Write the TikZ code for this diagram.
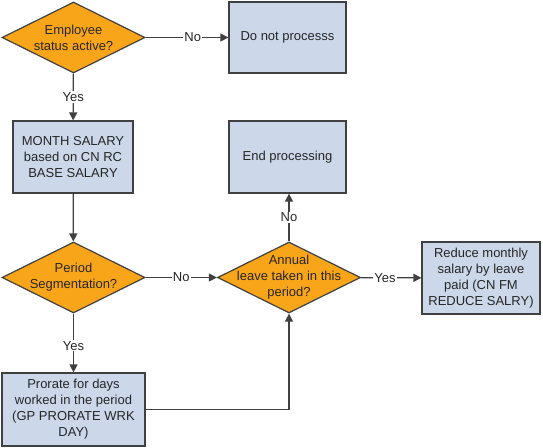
\documentclass[tikz,border=0pt]{standalone}
\usepackage{fontspec}
\setmainfont{Liberation Sans}
\usetikzlibrary{shapes.geometric,arrows.meta,positioning}

\definecolor{decfill}{HTML}{F9A51A}
\definecolor{boxfill}{HTML}{CCD8EA}
\definecolor{edge}{HTML}{404040}

\tikzset{
  decision/.style={diamond, draw=edge, fill=decfill, line width=1.2pt, inner sep=-30pt,
    minimum width=143pt, minimum height=71pt, align=center, text=black!85},
  process/.style={rectangle, draw=edge, fill=boxfill, line width=1.2pt, inner sep=0pt,
    align=center, text=black!85},
  flow/.style={draw=edge, line width=1.2pt, -{Triangle[length=8pt,width=8pt]}},
  answer/.style={fill=white, inner sep=1pt, text=black!85}
}

\begin{document}
\begin{tikzpicture}[x=1pt, y=-1pt, font=\fontsize{13}{16}\selectfont]
        \useasboundingbox (0,0) rectangle (543,447);

        % Decisions
        \node[decision] (active) at (73.5,37.5) {Employee\\status active?};
        \node[decision] (seg) at (73.5,277.5) {Period\\Segmentation?};
        \node[decision] (leave) at (289,277.5) {Annual\\leave taken in this\\period?};

        % Processes
        \node[process, minimum width=117pt, minimum height=71pt] (noproc) at (287.5,37.5) {Do not processs};
        \node[process, minimum width=120pt, minimum height=72pt] (month) at (73,157) {MONTH SALARY\\based on CN RC\\BASE SALARY};
        \node[process, minimum width=117pt, minimum height=72pt] (endp) at (287.5,157) {End processing};
        \node[process, minimum width=118pt, minimum height=72pt] (reduce) at (481,278) {Reduce monthly\\salary by leave\\paid (CN FM\\REDUCE SALRY)};
        \node[process, minimum width=143pt, minimum height=73pt] (prorate) at (73.5,409.5) {Prorate for days\\worked in the period\\(GP PRORATE WRK\\DAY)};

        % Connectors
        \draw[flow] (active) -- node[answer, pos=0.57] {No} (noproc);
        \draw[flow] (active) -- node[answer] {Yes} (month);
        \draw[flow] (month) -- (seg);
        \draw[flow] (seg) -- node[answer] {No} (leave);
        \draw[flow] (seg) -- node[answer, pos=0.55] {Yes} (prorate);
        \draw[flow] (prorate.east) -| (leave.south);
        \draw[flow] (leave.north) -- node[answer] {No} (leave.north |- endp.south);
        \draw[flow] (leave) -- node[answer, pos=0.4] {Yes} (reduce);

    \end{tikzpicture}
\end{document}
